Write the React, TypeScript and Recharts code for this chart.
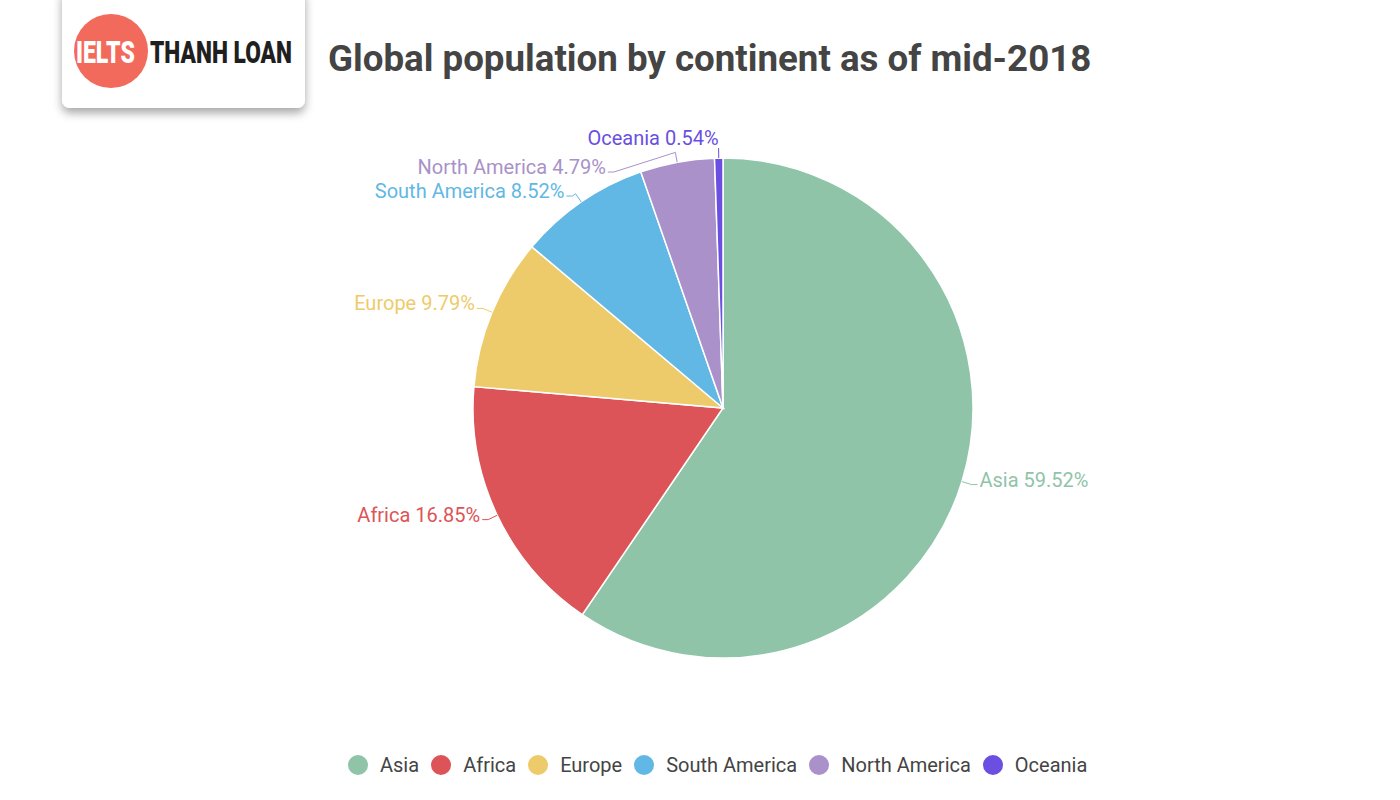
import React from 'react';
import { PieChart, Pie, Cell, Legend } from 'recharts';

const CONTINENTS = ['Asia', 'Africa', 'Europe', 'South America', 'North America', 'Oceania'];
const SHARES = [59.52, 16.85, 9.79, 8.52, 4.79, 0.54];
const COLORS = ['#8fc4a8', '#dc5457', '#eecb6a', '#61b8e4', '#aa91c9', '#6a4fe0'];

const CX = 723;
const CY = 408;
const R = 250;
const R2 = R + 10; // elbow radius
const L2 = 6; // horizontal leg
const MIN_GAP = 24;

const chartData = CONTINENTS.map((name, i) => ({ name, value: SHARES[i] }));

// label layout: elbow lines, pushed apart on each side when too close
type LabelPos = { pts: [number, number][]; tx: number; ty: number; side: number };

function buildLabels(): LabelPos[] {
    const total = SHARES.reduce((a, b) => a + b, 0);
    let acc = 0;
    const raw = SHARES.map((v) => {
        const mid = 90 - (360 * (acc + v / 2)) / total;
        acc += v;
        const rad = (mid * Math.PI) / 180;
        const cos = Math.cos(rad);
        const sin = Math.sin(rad);
        return {
            e: [CX + R * cos, CY - R * sin] as [number, number],
            b: [CX + R2 * cos, CY - R2 * sin] as [number, number],
            side: cos >= 0 ? 1 : -1,
            top: Math.abs(cos) < 0.05,
            ly: CY - R2 * sin,
        };
    });
    [1, -1].forEach((side) => {
        const idx = raw.map((r, i) => i).filter((i) => raw[i].side === side).sort((a, b) => raw[a].ly - raw[b].ly);
        for (let k = 1; k < idx.length; k++) {
            const prev = raw[idx[k - 1]].ly;
            if (raw[idx[k]].ly < prev + MIN_GAP) raw[idx[k]].ly = prev + MIN_GAP;
        }
    });
    return raw.map((r) => {
        const pts: [number, number][] = [r.e, r.b];
        if (r.top) {
            // near-vertical slice: label sits straight above the line
            return { pts, tx: r.b[0], ty: r.b[1] - 10, side: r.side };
        }
        let px = r.b[0];
        if (Math.abs(r.ly - r.b[1]) > 0.5) {
            px = CX + r.side * Math.sqrt(Math.max(0, R2 * R2 - (r.ly - CY) * (r.ly - CY)));
            pts.push([px, r.ly]);
        }
        const tx = px + r.side * L2;
        pts.push([tx, r.ly]);
        return { pts, tx: tx + r.side * 2, ty: r.ly - 5, side: r.side };
    });
}

const LABELS = buildLabels();

const renderLabel = (props: any) => {
    const i = props.index;
    const l = LABELS[i];
    return (
        <g key={`lbl-${i}`}>
            <polyline
                points={l.pts.map((p) => p.join(',')).join(' ')}
                fill="none"
                stroke={COLORS[i]}
                strokeWidth={1}
            />
            <text
                x={l.tx}
                y={l.ty}
                textAnchor={l.side > 0 ? 'start' : 'end'}
                dominantBaseline="central"
                fill={COLORS[i]}
                fontSize={20}
                fontWeight={400}
                fontFamily="Roboto, sans-serif"
            >
                {`${CONTINENTS[i]} ${SHARES[i].toFixed(2)}%`}
            </text>
        </g>
    );
};

const renderLegend = () => (
    <div style={{ display: 'flex', alignItems: 'center', fontFamily: 'Roboto, sans-serif', fontSize: 20, color: '#444' }}>
        {CONTINENTS.map((name, i) => (
            <div key={name} style={{ display: 'flex', alignItems: 'center', marginRight: 12 }}>
                <svg width={20} height={20} style={{ marginRight: 12 }}>
                    <circle cx={10} cy={10} r={10} fill={COLORS[i]} />
                </svg>
                <span style={{ lineHeight: '24px' }}>{name}</span>
            </div>
        ))}
    </div>
);

const Logo = () => (
    <svg width={330} height={130} style={{ position: 'absolute', left: 0, top: 0 }}>
        <defs>
            <filter id="sh" x="-20%" y="-20%" width="140%" height="150%">
                <feDropShadow dx="0" dy="5" stdDeviation="5" floodColor="#000" floodOpacity="0.35" />
            </filter>
        </defs>
        <rect x={62} y={-12} width={243} height={120} rx={8} fill="#fff" filter="url(#sh)" />
        <circle cx={111} cy={51} r={37} fill="#f26a5b" />
        <g transform="translate(76 63) scale(0.72 1)">
            <text x={0} y={0} fontFamily="Roboto, sans-serif" fontWeight={900} fontSize={32} fill="#fff">IELTS</text>
        </g>
        <g transform="translate(150 63) scale(0.71 1)">
            <text x={0} y={0} fontFamily="Roboto, sans-serif" fontWeight={900} fontSize={32} fill="#1f1f1f">THANH LOAN</text>
        </g>
    </svg>
);

export default function App() {
    return (
        <div style={{ position: 'relative', width: 1400, height: 800, background: '#fff', overflow: 'hidden' }}>
            <style>{`body{margin:0}`}</style>
            <Logo />
            <div
                style={{
                    position: 'absolute',
                    left: 328,
                    top: 37,
                    fontFamily: 'Roboto, sans-serif',
                    fontWeight: 700,
                    fontSize: 36.7,
                    lineHeight: '44px',
                    color: '#444',
                    whiteSpace: 'nowrap',
                }}
            >
                Global population by continent as of mid-2018
            </div>
            <div style={{ position: 'absolute', left: 0, top: 0 }}>
                <PieChart width={1400} height={800} margin={{ top: 0, right: 0, bottom: 0, left: 0 }}>
                    <Pie
                        data={chartData}
                        dataKey="value"
                        nameKey="name"
                        cx={CX}
                        cy={CY}
                        outerRadius={R}
                        startAngle={90}
                        endAngle={-270}
                        stroke="#fff"
                        strokeWidth={1.5}
                        label={renderLabel}
                        labelLine={false}
                        isAnimationActive={false}
                    >
                        {chartData.map((d, i) => (
                            <Cell key={d.name} fill={COLORS[i]} />
                        ))}
                    </Pie>
                    <Legend content={renderLegend} wrapperStyle={{ left: 348, top: 753, width: 'auto' }} />
                </PieChart>
            </div>
        </div>
    );
}
